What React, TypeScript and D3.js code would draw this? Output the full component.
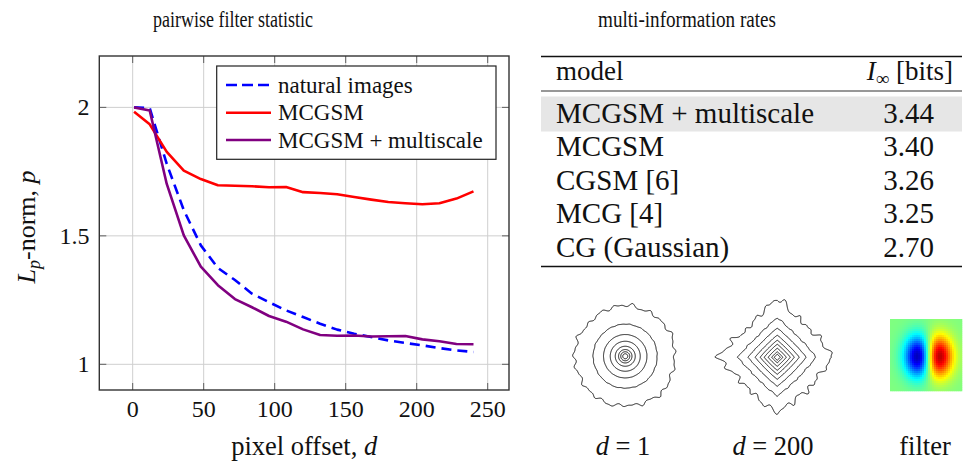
import React from "react";
import * as d3 from "d3";

// ---------- data ----------
const offsets = [1, 12, 24, 36, 48, 60, 72, 84, 96, 108, 120, 132, 144, 156, 168, 180, 192, 204, 216, 228, 240];
const naturalImages = [2.0, 1.997, 1.78, 1.6, 1.463, 1.375, 1.328, 1.275, 1.242, 1.21, 1.184, 1.158, 1.135, 1.119, 1.106, 1.093, 1.083, 1.074, 1.063, 1.054, 1.048];
const mcgsm = [1.983, 1.934, 1.827, 1.754, 1.721, 1.697, 1.695, 1.693, 1.689, 1.69, 1.67, 1.667, 1.662, 1.651, 1.641, 1.632, 1.627, 1.623, 1.627, 1.645, 1.673];
const mcgsmMultiscale = [2.0, 1.988, 1.702, 1.502, 1.38, 1.308, 1.254, 1.222, 1.188, 1.166, 1.136, 1.114, 1.111, 1.112, 1.108, 1.109, 1.11, 1.097, 1.09, 1.079, 1.078];

const xTicks = [0, 50, 100, 150, 200, 250];
const yTicks = [1, 1.5, 2];

const seriesNames = ["natural images", "MCGSM", "MCGSM + multiscale"];

const tableModels = ["MCGSM + multiscale", "MCGSM", "CGSM [6]", "MCG [4]", "CG (Gaussian)"];
const tableRates = [3.44, 3.4, 3.26, 3.25, 2.7];

const contourP = [2.0, 1.08];
const contourLevelsD1 = [2.5, 4.5, 6.7, 10, 15, 21.7, 32, 50];
const contourLevelsD200 = [3, 5.5, 9, 13, 17, 22, 29, 39, 57];

const FONT = "'Liberation Serif', 'Times New Roman', 'DejaVu Serif', serif";
const TS: React.CSSProperties = { fontFamily: FONT };

// ---------- helpers ----------
function jet(v: number) {
  const c = (t: number) => Math.max(0, Math.min(1, t));
  const r = c(1.5 - Math.abs(4 * v - 3));
  const g = c(1.5 - Math.abs(4 * v - 2));
  const b = c(1.5 - Math.abs(4 * v - 1));
  return d3.rgb(r * 255, g * 255, b * 255).formatHex();
}

function contourPaths(p: number, levels: number[], cx: number, cy: number, ampPx: number) {
  const half = 66;
  const step = 0.5;
  const n = Math.round((2 * half) / step) + 1;
  const values = new Float64Array(n * n);
  for (let j = 0; j < n; j++) {
    for (let i = 0; i < n; i++) {
      const x = -half + i * step;
      const y = -half + j * step;
      const norm = Math.pow(Math.pow(Math.abs(x), p) + Math.pow(Math.abs(y), p), 1 / p);
      const th = Math.atan2(y, x);
      const rr = Math.min(norm, 62) / 50;
      const amp = ampPx * Math.pow(rr, 4);
      const w =
        0.5 * Math.sin(19 * th + 0.3) +
        0.3 * Math.sin(33 * th + 1.7) +
        0.2 * Math.sin(11 * th + 2.9) +
        0.25 * Math.sin(5 * th + 0.8) +
        0.2 * Math.sin(3 * th + 2.2);
      values[j * n + i] = -(norm + amp * w);
    }
  }
  const gen = d3.contours().size([n, n]).thresholds(levels.map((l) => -l));
  const polys = gen(Array.from(values));
  const path = d3.geoPath(d3.geoIdentity().scale(step).translate([cx - half, cy - half]) as any);
  return polys.map((g) => path(g as any) || "");
}

export default function App() {
  const W = 963;
  const H = 464;

  // plot frame
  const x0 = 99.3, x1 = 509, y0 = 56, y1 = 390;
  const x = d3.scaleLinear().domain([-23.5, 265]).range([x0, x1]);
  const y = d3.scaleLinear().domain([0.9, 2.2]).range([y1, y0]);

  const line = d3
    .line<[number, number]>()
    .x((d) => x(d[0]))
    .y((d) => y(d[1]));

  const mk = (vals: number[]) => offsets.map((o, i) => [o, vals[i]] as [number, number]);

  const series = [
    { name: seriesNames[0], vals: naturalImages, color: "#0000ff", dash: "10 6" },
    { name: seriesNames[1], vals: mcgsm, color: "#ff0000", dash: "" },
    { name: seriesNames[2], vals: mcgsmMultiscale, color: "#800080", dash: "" },
  ];

  // legend
  const lg = { x: 216.7, y: 66, w: 279.3, h: 93.3 };
  const lgRows = [85, 112.7, 140];

  // table
  const tL = 541, tR = 962;
  const rowBase = (i: number) => 122.7 + i * 33.5;

  // contours
  const c1 = contourPaths(contourP[0], contourLevelsD1, 625, 356, 2.4);
  const c2 = contourPaths(contourP[1], contourLevelsD200, 777, 357, 2.6);

  // filter
  const fN = 36;
  const fX = 890, fY = 319, fS = 72;
  const cell = fS / fN;
  const fcx = 38.5, fcy = 37.5, sx = 11.5, sy = 14.5;
  const cells: { i: number; j: number; c: string }[] = [];
  let maxAbs = 0;
  const fv: number[] = [];
  for (let j = 0; j < fN; j++) {
    for (let i = 0; i < fN; i++) {
      const px = (i + 0.5) * cell - fcx;
      const py = (j + 0.5) * cell - fcy;
      const v = px * Math.exp(-(px * px) / (2 * sx * sx) - (py * py) / (2 * sy * sy));
      fv.push(v);
      maxAbs = Math.max(maxAbs, Math.abs(v));
    }
  }
  for (let j = 0; j < fN; j++) {
    for (let i = 0; i < fN; i++) {
      const v = fv[j * fN + i] / maxAbs;
      cells.push({ i, j, c: jet(0.5 + 0.44 * v) });
    }
  }

  const gridColor = "#cfcfcf";
  const tickColor = "#606060";

  return (
    <svg
      width={W}
      height={H}
      viewBox={`0 0 ${W} ${H}`}
      style={{ position: "absolute", left: 0, top: 0, background: "#fff", fontFamily: FONT }}
    >
      <rect x={0} y={0} width={W} height={H} fill="#fff" />

      {/* titles */}
      <text x={153} y={27} fontSize={23} style={TS} textLength={160} lengthAdjust="spacingAndGlyphs" fill="#111">
        pairwise filter statistic
      </text>
      <text x={598} y={27} fontSize={23} style={TS} textLength={178} lengthAdjust="spacingAndGlyphs" fill="#111">
        multi-information rates
      </text>

      {/* grid */}
      {xTicks.map((t) => (
        <line key={"gx" + t} x1={x(t)} x2={x(t)} y1={y0} y2={y1} stroke={gridColor} strokeWidth={1} />
      ))}
      {yTicks.map((t) => (
        <line key={"gy" + t} x1={x0} x2={x1} y1={y(t)} y2={y(t)} stroke={gridColor} strokeWidth={1} />
      ))}
      {/* ticks */}
      {xTicks.map((t) => (
        <g key={"tx" + t}>
          <line x1={x(t)} x2={x(t)} y1={y1} y2={y1 - 7} stroke={tickColor} strokeWidth={1} />
          <line x1={x(t)} x2={x(t)} y1={y0} y2={y0 + 7} stroke={tickColor} strokeWidth={1} />
        </g>
      ))}
      {yTicks.map((t) => (
        <g key={"ty" + t}>
          <line x1={x0} x2={x0 + 7} y1={y(t)} y2={y(t)} stroke={tickColor} strokeWidth={1} />
          <line x1={x1} x2={x1 - 7} y1={y(t)} y2={y(t)} stroke={tickColor} strokeWidth={1} />
        </g>
      ))}

      {/* series */}
      {series.map((s) => (
        <path
          key={s.name}
          d={line(mk(s.vals)) || ""}
          fill="none"
          stroke={s.color}
          strokeWidth={2.6}
          strokeDasharray={s.dash || undefined}
          strokeLinejoin="round"
        />
      ))}

      {/* frame */}
      <rect x={x0} y={y0} width={x1 - x0} height={y1 - y0} fill="none" stroke="#333" strokeWidth={1.4} />

      {/* legend */}
      <rect x={lg.x} y={lg.y} width={lg.w} height={lg.h} fill="#fff" stroke="#222" strokeWidth={1.2} />
      {series.map((s, i) => (
        <g key={"lg" + i}>
          <line
            x1={226}
            x2={271}
            y1={lgRows[i]}
            y2={lgRows[i]}
            stroke={s.color}
            strokeWidth={2.6}
            strokeDasharray={s.dash ? "11 5" : undefined}
          />
          <text x={278} y={lgRows[i] + 7.5} fontSize={23} style={TS} fill="#111">
            {s.name}
          </text>
        </g>
      ))}

      {/* tick labels */}
      {xTicks.map((t) => (
        <text key={"lx" + t} x={x(t)} y={417} fontSize={24} style={TS} textAnchor="middle" fill="#111">
          {t}
        </text>
      ))}
      {yTicks.map((t) => (
        <text key={"ly" + t} x={89.5} y={y(t) + 8} fontSize={24} style={TS} textAnchor="end" fill="#111">
          {t}
        </text>
      ))}

      {/* axis labels */}
      <text x={(x0 + x1) / 2} y={455} fontSize={26.5} style={TS} textAnchor="middle" fill="#111">
        pixel offset, <tspan fontStyle="italic">d</tspan>
      </text>
      <text transform="translate(35,227) rotate(-90)" fontSize={26} style={TS} textAnchor="middle" fill="#111">
        <tspan fontStyle="italic">L</tspan>
        <tspan fontStyle="italic" fontSize={18} dy={5}>p</tspan>
        <tspan dy={-5}>-norm, </tspan>
        <tspan fontStyle="italic">p</tspan>
      </text>

      {/* table */}
      <rect x={tL} y={96.5} width={tR - tL} height={35} fill="#e6e6e6" />
      <line x1={tL} x2={tR} y1={56.5} y2={56.5} stroke="#111" strokeWidth={1.5} />
      <line x1={tL} x2={tR} y1={91} y2={91} stroke="#333" strokeWidth={1.2} />
      <line x1={tL} x2={tR} y1={266.5} y2={266.5} stroke="#111" strokeWidth={1.5} />
      <text x={556} y={80} fontSize={27} style={TS} fill="#111">
        model
      </text>
      <text x={953} y={80} fontSize={27} style={TS} textAnchor="end" fill="#111">
        <tspan fontStyle="italic">I</tspan>
        <tspan fontSize={19} dy={5}>∞</tspan>
        <tspan dy={-5}> [bits]</tspan>
      </text>
      {tableModels.map((m, i) => (
        <g key={m}>
          <text x={556} y={rowBase(i)} fontSize={29} style={TS} fill="#111">
            {m}
          </text>
          <text x={908.5} y={rowBase(i)} fontSize={29} style={TS} textAnchor="middle" fill="#111">
            {tableRates[i].toFixed(2)}
          </text>
        </g>
      ))}

      {/* contour plots */}
      {c1.map((d, i) => (
        <path key={"c1" + i} d={d} fill="none" stroke="#111" strokeWidth={1} />
      ))}
      {c2.map((d, i) => (
        <path key={"c2" + i} d={d} fill="none" stroke="#111" strokeWidth={1} />
      ))}

      {/* filter image */}
      {cells.map((c) => (
        <rect
          key={c.i + "-" + c.j}
          x={fX + c.i * cell}
          y={fY + c.j * cell}
          width={cell + 0.3}
          height={cell + 0.3}
          fill={c.c}
        />
      ))}

      {/* bottom labels */}
      <text x={623} y={455} fontSize={26.5} style={TS} textAnchor="middle" fill="#111">
        <tspan fontStyle="italic">d</tspan> = 1
      </text>
      <text x={773} y={455} fontSize={26.5} style={TS} textAnchor="middle" fill="#111">
        <tspan fontStyle="italic">d</tspan> = 200
      </text>
      <text x={925} y={455} fontSize={26.5} style={TS} textAnchor="middle" fill="#111">
        filter
      </text>
    </svg>
  );
}
